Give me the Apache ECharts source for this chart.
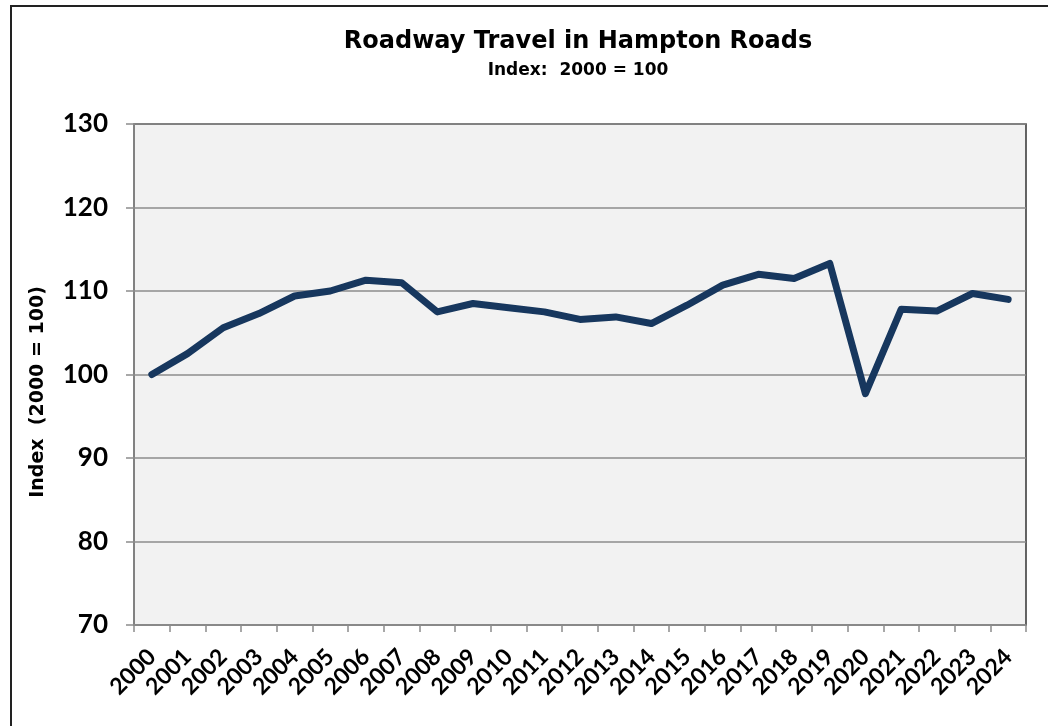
<!DOCTYPE html>
<html>
<head>
<meta charset="utf-8">
<script src="https://cdn.jsdelivr.net/npm/echarts@6/dist/echarts.min.js"></script>
<style>
  html, body { margin: 0; padding: 0; background: #ffffff; overflow: hidden; }
  #frame { position: absolute; left: 10px; top: 5px; width: 1100px; height: 800px; border: 2px solid #222; box-sizing: border-box; }
  #chart { position: absolute; left: 0; top: 0; width: 1048px; height: 726px; }
</style>
</head>
<body>
<div id="frame"></div>
<div id="chart"></div>
<script>
const years = ['2000','2001','2002','2003','2004','2005','2006','2007','2008','2009','2010','2011','2012','2013','2014','2015','2016','2017','2018','2019','2020','2021','2022','2023','2024'];
const travelIndex = [100.0, 102.5, 105.6, 107.3, 109.4, 110.0, 111.3, 111.0, 107.5, 108.5, 108.0, 107.5, 106.6, 106.9, 106.1, 108.3, 110.7, 112.0, 111.5, 113.3, 97.7, 107.8, 107.6, 109.7, 109.0];
const yTicks = [70, 80, 90, 100, 110, 120, 130];
const titleText = 'Roadway Travel in Hampton Roads';
const subtitleText = 'Index:  2000 = 100';
const yAxisTitle = 'Index  (2000 = 100)';

const chart = echarts.init(document.getElementById('chart'), null, { renderer: 'canvas' });
const option = {
  backgroundColor: 'transparent',
  animation: false,
  title: {
    text: titleText,
    subtext: subtitleText,
    left: 573, textAlign: 'center', top: 25, itemGap: 8,
    textStyle: { fontFamily: 'DejaVu Sans, sans-serif', fontWeight: 'bold', fontSize: 24, color: '#000' },
    subtextStyle: { fontFamily: 'DejaVu Sans, sans-serif', fontWeight: 'bold', fontSize: 17, color: '#000' }
  },
  graphic: [{
    type: 'text', x: 38, y: 392, rotation: Math.PI / 2,
    style: { text: yAxisTitle, fontFamily: 'DejaVu Sans, sans-serif', fontWeight: 'bold', fontSize: 19, fill: '#000', textAlign: 'center', textVerticalAlign: 'middle' }
  }],
  grid: {
    left: 134, top: 124, right: 22, bottom: 101,
    show: true, backgroundColor: '#f2f2f2', borderColor: '#333', borderWidth: 1.5
  },
  xAxis: {
    type: 'category', data: years, boundaryGap: true,
    axisLine: { show: true, lineStyle: { color: '#8c8c8c', width: 1.5 } },
    axisTick: { show: true, alignWithLabel: false, length: 7, lineStyle: { color: '#8c8c8c', width: 1.5 } },
    axisLabel: { rotate: 45, interval: 0, margin: 28, fontFamily: 'Lato, DejaVu Sans, sans-serif', fontWeight: 'bold', fontSize: 23, color: '#000' },
    splitLine: { show: false }
  },
  yAxis: {
    type: 'value', min: yTicks[0], max: yTicks[yTicks.length - 1], interval: 10,
    axisLine: { show: true, lineStyle: { color: '#8c8c8c', width: 1.5 } },
    axisTick: { show: true, length: 8, lineStyle: { color: '#8c8c8c', width: 1.5 } },
    axisLabel: { margin: 26, fontFamily: 'Lato, DejaVu Sans, sans-serif', fontWeight: 'bold', fontSize: 26, color: '#000' },
    splitLine: { show: true, lineStyle: { color: '#8c8c8c', width: 1.5 } }
  },
  series: [{
    type: 'line', data: travelIndex, symbol: 'none',
    lineStyle: { color: '#17375e', width: 7, cap: 'round', join: 'round' }
  }]
};
chart.setOption(option);
</script>
</body>
</html>
